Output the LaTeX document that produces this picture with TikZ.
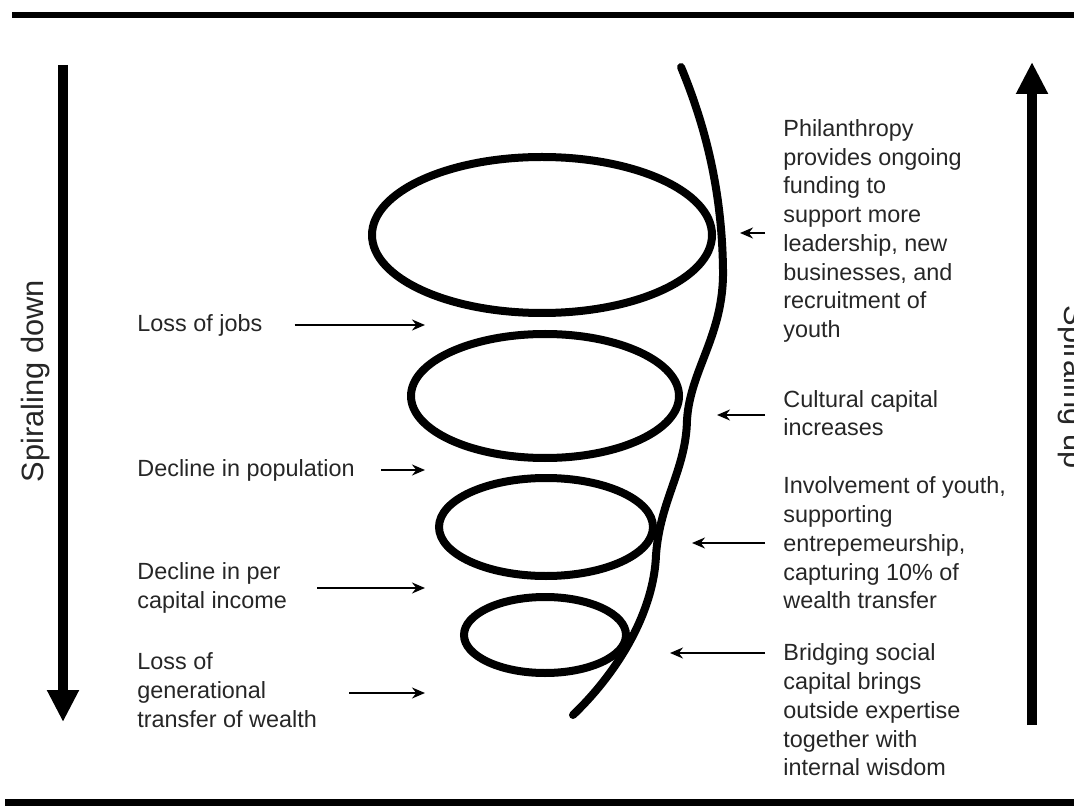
\documentclass[tikz,border=0pt]{standalone}
\usepackage{fontspec}
\setmainfont{Liberation Sans}
\usetikzlibrary{arrows.meta}
\tikzset{
    spiral-line/.style = {line width=4pt, line cap=round},
    rule-line/.style = {line width=3.2pt},
    big-arrow/.style = {line width=5pt, -{Triangle[length=16pt, width=15pt]}},
    small-arrow/.style = {line width=0.9pt, -{Stealth[length=6.5pt, width=5.5pt]}},
    label-text/.style = {inner sep=0pt, anchor=west, align=left, text=black!85, font=\fontsize{11.7}{14.35}\selectfont},
    side-title/.style = {inner sep=0pt, text=black!85, font=\fontsize{15.4}{18}\selectfont},
}
\begin{document}
\begin{tikzpicture}[x=0.5pt, y=-0.5pt]
\useasboundingbox (0,0) rectangle (1074,806);
% frame lines
\draw[rule-line] (12,15) -- (1074,15);
\draw[rule-line, line width=3.5pt] (5,802) -- (1074,802);

% spiral
\draw[spiral-line] (542,235) ellipse [x radius=170, y radius=78];
\draw[spiral-line] (545,396) ellipse [x radius=134, y radius=62];
\draw[spiral-line] (546,527) ellipse [x radius=107, y radius=49];
\draw[spiral-line] (545,635) ellipse [x radius=81, y radius=38];
\draw[spiral-line] (681,67) .. controls (705,125) and (722,190) .. (723,270)
    .. controls (724,335) and (690,370) .. (687,420)
    .. controls (686,470) and (660,500) .. (656,555)
    .. controls (654,610) and (620,670) .. (573,715);

% side arrows
\coordinate (down-start) at (63,65);
\coordinate (down-end) at (63,722);
\coordinate (up-start) at (1032,725);
\coordinate (up-end) at (1032,62);
\draw[big-arrow] (down-start) -- (down-end);
\draw[big-arrow] (up-start) -- (up-end);
\node[side-title, rotate=90] (down-title) at (36,381) {Spiraling down};
\node[side-title, rotate=-90] (up-title) at (1072,387) {Spiraling up};

% left labels
\node[label-text] (jobs) at (137,325) {Loss of jobs};
\node[label-text] (population) at (137,470) {Decline in population};
\node[label-text] (income) at (137,588) {Decline in per\\capital income};
\node[label-text] (wealth) at (137,690) {Loss of\\generational\\transfer of wealth};
\coordinate (jobs-tip) at (425,325);
\coordinate (population-tip) at (425,470);
\coordinate (income-tip) at (425,588);
\coordinate (wealth-tip) at (425,693);
\draw[small-arrow, shorten <=16pt] (jobs) -- (jobs-tip);
\draw[small-arrow, shorten <=13pt] (population) -- (population-tip);
\draw[small-arrow, shorten <=15pt] (income) -- (income-tip);
\draw[small-arrow, shorten <=16pt] (wealth.east |- wealth-tip) -- (wealth-tip);

% right labels
\node[label-text] (philanthropy) at (783,231) {Philanthropy\\provides ongoing\\funding to\\support more\\leadership, new\\businesses, and\\recruitment of\\youth};
\node[label-text] (culture) at (783,413) {Cultural capital\\increases};
\node[label-text] (youth) at (783,543) {Involvement of youth,\\supporting\\entrepemeurship,\\capturing 10\% of\\wealth transfer};
\node[label-text] (bridging) at (783,710) {Bridging social\\capital brings\\outside expertise\\together with\\internal wisdom};
\coordinate (philanthropy-tip) at (740,233);
\coordinate (culture-tip) at (717,415);
\coordinate (youth-tip) at (692,543);
\coordinate (bridging-tip) at (670,653);
\draw[small-arrow, shorten <=9pt] (philanthropy.west |- philanthropy-tip) -- (philanthropy-tip);
\draw[small-arrow, shorten <=9pt] (culture.west |- culture-tip) -- (culture-tip);
\draw[small-arrow, shorten <=9pt] (youth) -- (youth-tip);
\draw[small-arrow, shorten <=9pt] (bridging.west |- bridging-tip) -- (bridging-tip);
\end{tikzpicture}
\end{document}
